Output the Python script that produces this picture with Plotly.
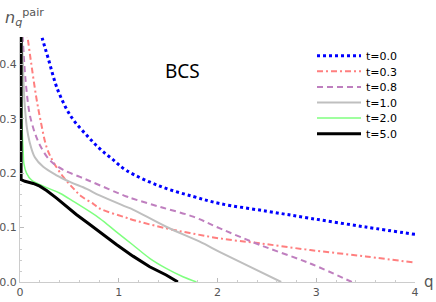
import plotly.graph_objects as go

# ---- data ----
labels = ["t=0.0", "t=0.3", "t=0.8", "t=1.0", "t=2.0", "t=5.0"]

q_t00 = [0.19, 0.231, 0.282, 0.384, 0.52, 0.688, 0.807, 0.926, 1.078, 1.416, 1.754, 2.025, 2.5, 2.939, 3.5, 4.0]
n_t00 = [0.47, 0.444, 0.413, 0.352, 0.303, 0.267, 0.245, 0.227, 0.205, 0.176, 0.157, 0.144, 0.130, 0.117, 0.101, 0.0875]

q_t03 = [0.062, 0.079, 0.114, 0.164, 0.21, 0.269, 0.333, 0.438, 0.54, 0.624, 0.739, 0.806, 1.078, 1.144, 1.48, 1.72, 2.025, 2.43, 2.939, 3.5, 4.0]
n_t03 = [0.47, 0.447, 0.401, 0.34, 0.295, 0.248, 0.222, 0.193, 0.172, 0.157, 0.144, 0.135, 0.118, 0.114, 0.0985, 0.09, 0.080, 0.071, 0.0587, 0.047, 0.0355]

q_t08 = [0.02, 0.029, 0.056, 0.096, 0.134, 0.164, 0.2, 0.3, 0.438, 0.607, 0.739, 1.078, 1.144, 1.416, 1.754, 2.025, 2.431, 2.939, 3.36]
n_t08 = [0.47, 0.444, 0.371, 0.31, 0.283, 0.267, 0.252, 0.224, 0.206, 0.193, 0.183, 0.157, 0.153, 0.138, 0.12, 0.0985, 0.068, 0.034, 0.0]

q_t10 = [0.014, 0.02, 0.029, 0.04, 0.052, 0.07, 0.096, 0.15, 0.235, 0.37, 0.505, 0.675, 0.806, 1.078, 1.144, 1.48, 1.82, 2.025, 2.3, 2.645]
n_t10 = [0.47, 0.44, 0.401, 0.35, 0.315, 0.283, 0.258, 0.229, 0.2115, 0.196, 0.184, 0.171, 0.159, 0.138, 0.133, 0.1015, 0.074, 0.055, 0.0305, 0.0]

q_t20 = [0.012, 0.016, 0.022, 0.032, 0.039, 0.066, 0.117, 0.235, 0.404, 0.55, 0.806, 0.976, 1.144, 1.313, 1.48, 1.65, 1.787]
n_t20 = [0.47, 0.35, 0.28, 0.242, 0.218, 0.2, 0.187, 0.176, 0.163, 0.147, 0.117, 0.092, 0.068, 0.0435, 0.025, 0.0097, 0.0]

q_t50 = [0.011, 0.011, 0.05, 0.134, 0.2, 0.269, 0.37, 0.47, 0.57, 0.69, 0.806, 0.976, 1.144, 1.313, 1.48, 1.6]
n_t50 = [0.47, 0.188, 0.185, 0.181, 0.176, 0.168, 0.154, 0.139, 0.124, 0.108, 0.092, 0.069, 0.0475, 0.028, 0.0128, 0.0]

x_ticks = [0, 1, 2, 3, 4]
y_ticks = [0.0, 0.1, 0.2, 0.3, 0.4]

series = [
    (q_t00, n_t00, dict(color="#0000FF", width=3, dash="3px,3px", shape="spline", smoothing=1.0)),
    (q_t03, n_t03, dict(color="#FF7F7F", width=2, dash="6px,3px,2px,3px", shape="spline", smoothing=1.0)),
    (q_t08, n_t08, dict(color="#BF7FBF", width=2, dash="6px,4px", shape="spline", smoothing=1.0)),
    (q_t10, n_t10, dict(color="#BFBFBF", width=2, shape="spline", smoothing=1.0)),
    (q_t20, n_t20, dict(color="#7FFF7F", width=1.5, shape="spline", smoothing=1.0)),
    (q_t50, n_t50, dict(color="#000000", width=3, shape="linear")),
]

H, W = 302, 436
M = dict(l=20, r=21, t=37, b=20)
plot_h = H - M["t"] - M["b"]
plot_w = W - M["l"] - M["r"]

fig = go.Figure()
legend_layouts = {}
row_gap = 15.6           # px between legend rows
first_row_py = 55.7      # px from top of image
for i, ((qx, ny, ln), name) in enumerate(zip(series, labels)):
    lg = "legend" if i == 0 else f"legend{i + 1}"
    fig.add_trace(go.Scatter(x=qx, y=ny, mode="lines", name=name, line=ln, legend=lg))
    py = first_row_py + i * row_gap
    legend_layouts[lg] = dict(
        x=(312 - M["l"]) / plot_w, y=(H - M["b"] - py) / plot_h,
        xanchor="left", yanchor="middle",
        font=dict(family="DejaVu Sans", size=11, color="#000000"),
        bgcolor="rgba(0,0,0,0)", borderwidth=0, itemwidth=44,
    )

axis_font = dict(family="DejaVu Sans", size=11, color="#555555")
fig.update_layout(
    width=W, height=H,
    margin=M,
    paper_bgcolor="white", plot_bgcolor="white",
    font=dict(family="DejaVu Sans"),
    showlegend=True,
    xaxis=dict(range=[0, 4], tickvals=x_ticks, ticks="inside", ticklen=4,
               tickcolor="#BBBBBB", showline=True, linecolor="#CCCCCC",
               showgrid=False, zeroline=False, tickfont=axis_font, automargin=False,
               minor=dict(dtick=0.2, ticks="inside", ticklen=2, tickcolor="#CCCCCC")),
    yaxis=dict(range=[0, 0.45], tickvals=y_ticks, tickformat=".1f", ticks="inside",
               ticklen=4, tickcolor="#BBBBBB", showline=True, linecolor="#CCCCCC",
               showgrid=False, zeroline=False, tickfont=axis_font, automargin=False,
               minor=dict(dtick=0.02, ticks="inside", ticklen=2, tickcolor="#CCCCCC")),
    **legend_layouts,
)

fig.add_annotation(x=1.644, y=0.387, xref="x", yref="y", text="BCS", showarrow=False,
                   font=dict(family="Noto Sans", size=19, color="#000000"))
fig.add_annotation(x=1.0, y=0.0, xref="paper", yref="paper", text="q", showarrow=False,
                   xanchor="left", yanchor="middle", xshift=7,
                   font=dict(family="DejaVu Sans", size=15, color="#555555"))
fig.add_annotation(x=0.0, y=1.0, xref="paper", yref="paper",
                   text="<i>n</i><sub><i>q</i></sub><sup>pair</sup>", showarrow=False,
                   xanchor="left", yanchor="bottom", xshift=-17, yshift=6,
                   font=dict(family="DejaVu Sans", size=16, color="#555555"))

fig.write_html("out.html",
               config={"displayModeBar": False},
               post_script="document.body.style.margin='0';document.body.style.padding='0';")
